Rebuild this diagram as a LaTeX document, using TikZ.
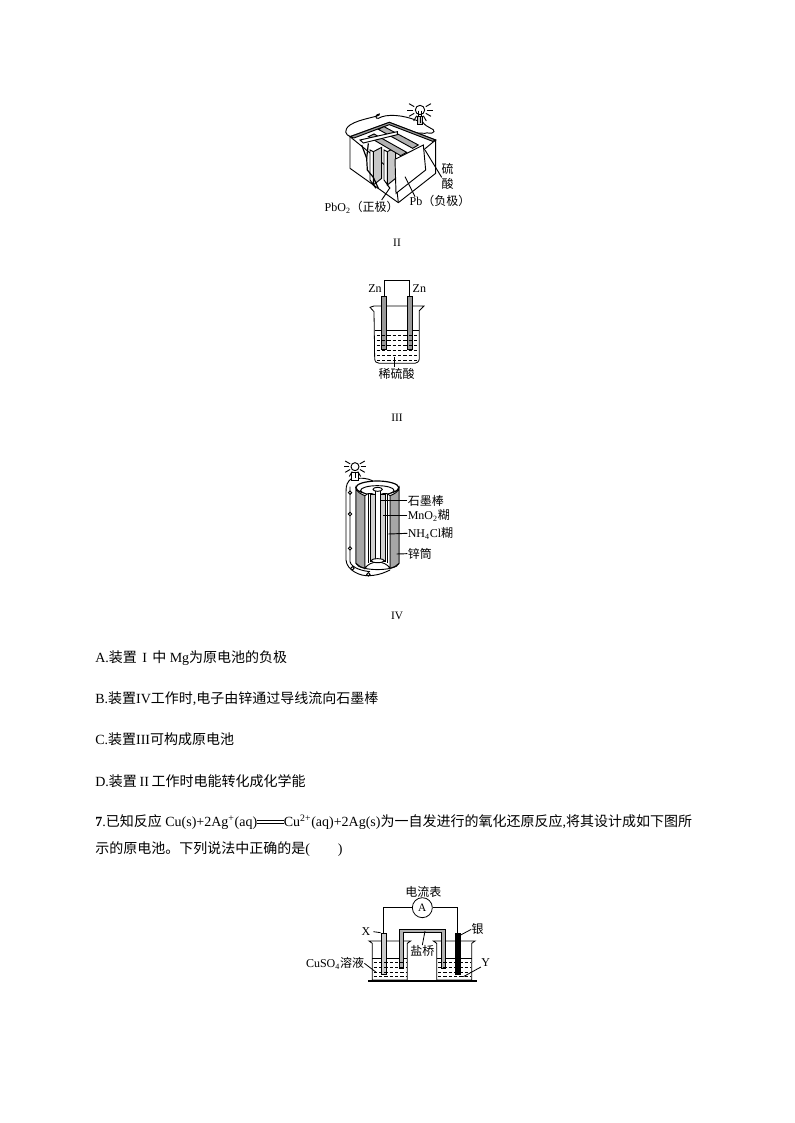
\documentclass[tikz,border=0pt]{standalone}
\usepackage{fontspec}
\setmainfont{Liberation Serif}
\newfontfamily\zh{Noto Sans CJK SC}
\begin{document}
\begin{tikzpicture}[x=0.75pt,y=-0.75pt,line width=0.5pt,font=\fontsize{10.5}{12}\selectfont]
	\tikzstyle{ligne}=[anchor=west,inner sep=0pt]
	\tikzstyle{petit}=[inner sep=0pt,font=\fontsize{9}{11}\selectfont]
	\tikzstyle{titre}=[inner sep=0pt,font=\fontsize{8.5}{10}\selectfont]
	\tikzstyle{acide}=[dash pattern=on 2.6pt off 1.4pt,line width=0.6pt]
	\tikzstyle{rayon}=[line width=0.7pt]
	\useasboundingbox (0,0) rectangle (794,1123);
	\fill[white] (0,0) rectangle (794,1123);

	% batterie au plomb
	\begin{scope}[shift={(310,90)},x=0.25pt,y=-0.25pt,line width=0.7pt]
		\draw (330,60) circle (14);
		\draw (325,62) -- (325,78);
		\draw (335,62) -- (335,78);
		\draw[fill=black!20] (322,78) rectangle (338,102);
		\foreach \ang in {-30,0,30,...,210}
			\draw[rayon] (330,60)+(\ang:20) -- +(\ang:38);
		\draw (322,92) .. controls (280,75) and (230,70) .. (205,85) .. controls (195,88) and (195,72) .. (208,72) .. controls (215,80) and (150,85) .. (120,105) .. controls (100,120) and (105,135) .. (122,140);
		\draw (338,96) .. controls (350,115) and (375,115) .. (372,125) .. controls (365,135) and (350,125) .. (345,130) -- (262,126);
		\draw[fill=white] (120,140) -- (238,97) -- (377,150) -- (377,250) -- (265,338) -- (120,235) -- cycle;
		\draw[fill=black!40] (120,140) -- (238,97) -- (377,150) -- (368,154) -- (238,104) -- (132,144) -- cycle;
		\draw (120,140) -- (255,250) -- (377,150);
		\draw (255,250) -- (265,338);
		% plaques
		\foreach \px in {190,232}{
			\draw[fill=black!22] (\px,185) -- (\px+25,172) -- (\px+25,265) -- (\px,285) -- cycle;
			\draw[fill=white] (\px-10,180) -- (\px,185) -- (\px,285) -- (\px+8,295) -- (\px-10,270) -- cycle;
		}
		\draw[fill=white] (255,208) -- (340,165) -- (347,240) -- (258,310) -- cycle;
		\draw[fill=black!30] (205,118) -- (222,110) -- (325,165) -- (308,175) -- cycle;
		\draw[fill=black!30] (175,140) -- (192,132) -- (290,187) -- (272,197) -- cycle;
		\draw[fill=white] (150,150) -- (262,125) -- (262,134) -- (160,159) -- cycle;
		\draw[line width=0.9pt] (155,165) -- (170,205) -- (172,240) -- (190,262) -- (205,295);
		\draw[line width=0.9pt] (175,160) -- (170,205);
		\draw (315,320) -- (285,260);
		\draw (215,330) -- (240,293);
		\draw (395,262) -- (345,180);
		\node[petit] (acide1) at (413,238) {\zh 硫};
		\node[petit] (acide2) at (413,283) {\zh 酸};
		\node[petit] (plomb) at (390,332) {Pb{\zh （负极）}};
		\node[petit] (oxyde) at (155,352) {PbO\textsubscript{2}{\zh （正极）}};
	\end{scope}
	\node[titre] (t2) at (397,243) {II};

	% deux zinc
	\begin{scope}[shift={(350,270)},x=0.25pt,y=-0.25pt,line width=0.6pt]
		\draw (60,112) .. controls (66,112) and (68,108) .. (72,108) -- (222,108) -- (208,122) -- (208,265) .. controls (208,275) and (200,280) .. (195,280) -- (88,280) .. controls (80,280) and (74,275) .. (74,265) -- (72,125) -- cycle;
		\draw (74,180) -- (208,180);
		\node[draw,fill=black!40,inner sep=0pt,minimum width=3.6pt,minimum height=40pt,anchor=north] (zinca) at (102,78) {};
		\node[draw,fill=black!40,inner sep=0pt,minimum width=3.9pt,minimum height=40pt,anchor=north] (zincb) at (179,78) {};
		\draw (zinca.north) |- (179,30) -- (zincb.north);
		\foreach \py in {197,212,227,242,257,270}
			\draw[acide] (80,\py) -- (204,\py);
		\draw (132,262) -- (132,292);
		\node[petit] (z1) at (75,57) {Zn};
		\node[petit] (z2) at (208,57) {Zn};
		\node[petit] (sulf) at (140,312) {\zh 稀硫酸};
	\end{scope}
	\node[titre] (t3) at (397,418) {III};

	% pile seche
	\begin{scope}[shift={(330,455)},x=0.25pt,y=-0.25pt,line width=0.7pt]
		\draw (75,35) circle (12);
		\draw[fill=white] (65,52) rectangle (85,76);
		\foreach \ang in {-30,0,30,...,210}
			\draw[rayon] (75,35)+(\ang:17) -- +(\ang:34);
		\draw (65,70) .. controls (52,80) and (48,90) .. (48,110) -- (48,315) .. controls (50,345) and (90,365) .. (120,362) .. controls (150,360) and (170,350) .. (180,345);
		\draw (85,70) .. controls (110,68) and (125,75) .. (135,82);
		\draw (60,95) -- (60,320) .. controls (65,340) and (100,348) .. (120,350);
		\foreach \bx/\by in {60/113,60/177,60/280,67/340,115/358}
			\draw[fill=white] (\bx,\by) circle (5);
		\draw[fill=white] (78,98) -- (78,325) .. controls (85,350) and (200,350) .. (207,325) -- (207,98) arc[start angle=0,end angle=180,x radius=64.5,y radius=20];
		\draw[fill=white,line width=0.9pt] (142,98) ellipse (64.5 and 20);
		\draw[fill=black!35] (78,98) .. controls (80,112) and (95,118) .. (105,122) -- (105,340) .. controls (95,338) and (85,333) .. (78,325) -- cycle;
		\draw[fill=black!35] (207,98) .. controls (205,112) and (190,118) .. (180,122) -- (180,340) .. controls (190,338) and (200,333) .. (207,325) -- cycle;
		\draw[fill=white] (142,106) ellipse (50 and 14);
		\draw[fill=white] (105,122) -- (105,340) .. controls (120,315) and (165,315) .. (180,340) -- (180,122) .. controls (165,108) and (155,120) .. (142,120) .. controls (130,120) and (120,108) .. (105,122) -- cycle;
		\draw[fill=black!18] (122,118) rectangle (137,320);
		\draw[fill=black!18] (150,118) rectangle (165,320);
		\draw (115,118) -- (115,325);
		\draw (172,118) -- (172,325);
		\draw[fill=white] (137,105) rectangle (150,315);
		\draw[fill=white] (143,103) ellipse (14 and 6);
		\draw[fill=white] (143,317) ellipse (20 and 6);
		\node[petit,anchor=west] (graph) at (232,137) {\zh 石墨棒};
		\node[petit,anchor=west] (mno) at (232,181) {MnO\textsubscript{2}{\zh 糊}};
		\node[petit,anchor=west] (nh) at (232,235) {NH\textsubscript{4}Cl{\zh 糊}};
		\node[petit,anchor=west] (zn) at (232,296) {\zh 锌筒};
		\draw (graph.west) -- (150,137);
		\draw (mno.west) -- (160,181);
		\draw (nh.west) -- (175,237);
		\draw (zn.west) -- (200,297);
	\end{scope}
	\node[titre] (t4) at (397,616) {IV};

	% texte
	\node[ligne] (a) at (95,658) {A.{\zh 装置}\hspace{4pt}I\hspace{4pt}{\zh 中} Mg{\zh 为原电池的负极}};
	\node[ligne] (b) at (95,699) {B.{\zh 装置}IV{\zh 工作时},{\zh 电子由锌通过导线流向石墨棒}};
	\node[ligne] (c) at (95,739) {C.{\zh 装置}III{\zh 可构成原电池}};
	\node[ligne] (d) at (95,781) {D.{\zh 装置}\hspace{2pt}II\hspace{2pt}{\zh 工作时电能转化成化学能}};
	\node[ligne] (q1) at (95,822) {\textbf{7}.{\zh 已知反应} Cu(s)+2Ag\textsuperscript{+}(aq)\raisebox{0.5pt}{\rule[2pt]{20pt}{0.4pt}\hspace{-20pt}\rule[3.6pt]{20pt}{0.4pt}}Cu\textsuperscript{2+}(aq)+2Ag(s){\zh 为一自发进行的氧化还原反应},{\zh 将其设计成如下图所}};
	\node[ligne] (q2) at (95,849) {{\zh 示的原电池。下列说法中正确的是}(\hspace{21pt})};

	% pile et pont salin
	\begin{scope}[shift={(295,880)},x=0.25pt,y=-0.25pt,line width=0.6pt]
		\draw[line width=0.8pt] (220,303) -- (545,303);
		\foreach \bx in {232,425}{
			\draw (\bx-10,183) -- (\bx,190) -- (\bx,300) -- (\bx+105,300) -- (\bx+105,190) -- (\bx+115,183) -- cycle;
			\draw (\bx,235) -- (\bx+105,235);
		}
		\draw[fill=black!30,even odd rule] (312,265) -- (312,148) -- (452,148) -- (452,265) -- (440,265) -- (440,156) -- (325,156) -- (325,265) -- cycle;
		\node[draw,fill=black!20,inner sep=0pt,minimum width=4.2pt,minimum height=31pt,anchor=north] (cuivre) at (266.5,158) {};
		\node[draw,fill=black,inner sep=0pt,minimum width=4.2pt,minimum height=31pt,anchor=north] (argent) at (488.5,158) {};
		\foreach \bx in {232,425}
			\foreach \py in {247,262,277,290}
				\draw[acide] (\bx+4,\py) -- (\bx+102,\py);
		\node[draw,circle,fill=white,inner sep=0pt,minimum size=15pt,font=\fontsize{8.5}{10}\selectfont] (amp) at (382,83) {A};
		\draw (cuivre.north) |- (amp);
		\draw (argent.north) |- (amp);
		\node[petit] (ampere) at (385,35) {\zh 电流表};
		\node[petit] (x) at (213,155) {X};
		\node[petit] (ag) at (548,148) {\zh 银};
		\node[petit] (pont) at (382,213) {\zh 盐桥};
		\node[petit] (sol) at (120,250) {CuSO\textsubscript{4}{\zh 溶液}};
		\node[petit] (y) at (572,248) {Y};
		\draw (235,155) -- (cuivre.north west);
		\draw (ag.west) -- (497,165);
		\draw (pont.north) -- (390,153);
		\draw (sol.east) -- (245,278);
		\draw (y.south west) -- (505,290);
	\end{scope}
\end{tikzpicture}
\end{document}
